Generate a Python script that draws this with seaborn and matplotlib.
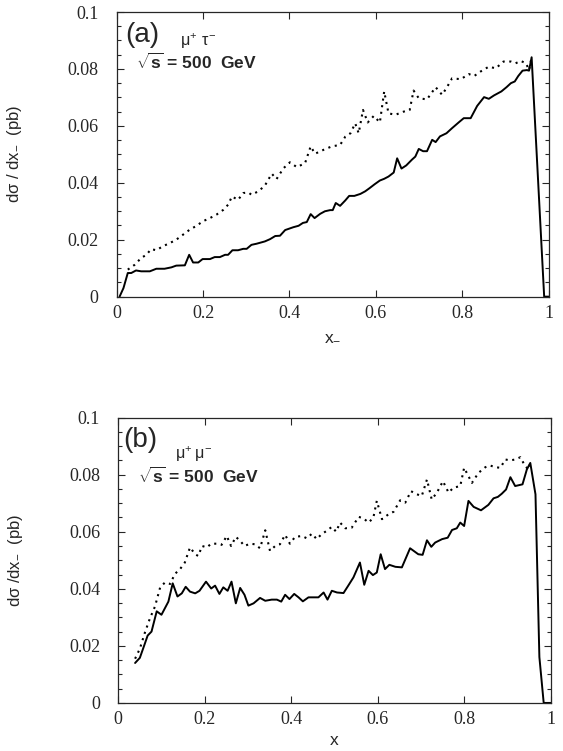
import numpy as np
import pandas as pd
import matplotlib
matplotlib.use("Agg")
import matplotlib.pyplot as plt
from matplotlib.ticker import MultipleLocator, FuncFormatter
import seaborn as sns

# panel (a): mu+ tau-, solid curve
a_solid_x = [0.007, 0.016, 0.026, 0.034, 0.045, 0.057, 0.077, 0.092, 0.111, 0.127, 0.138, 0.158,
             0.168, 0.177, 0.189, 0.199, 0.216, 0.227, 0.239, 0.251, 0.258, 0.268, 0.281, 0.293,
             0.301, 0.312, 0.324, 0.343, 0.355, 0.367, 0.378, 0.390, 0.409, 0.421, 0.431, 0.440,
             0.449, 0.458, 0.471, 0.482, 0.494, 0.500, 0.507, 0.517, 0.529, 0.538, 0.550, 0.564,
             0.575, 0.585, 0.597, 0.609, 0.619, 0.629, 0.641, 0.649, 0.659, 0.670, 0.683, 0.691,
             0.699, 0.709, 0.718, 0.730, 0.738, 0.748, 0.763, 0.776, 0.792, 0.803, 0.819, 0.834,
             0.850, 0.861, 0.873, 0.890, 0.902, 0.912, 0.921, 0.929, 0.939, 0.949, 0.954, 0.960,
             0.989, 1.0]
a_solid_y = [0.0, 0.003, 0.0083, 0.0083, 0.0092, 0.0089, 0.0089, 0.0098, 0.0098, 0.0103, 0.0109, 0.011,
             0.0147, 0.012, 0.012, 0.0132, 0.0132, 0.0139, 0.0139, 0.0147, 0.0147, 0.0163, 0.0163, 0.0168,
             0.0168, 0.0182, 0.0186, 0.0194, 0.0202, 0.0213, 0.0214, 0.0234, 0.0244, 0.0249, 0.0259, 0.0262,
             0.029, 0.0276, 0.0291, 0.0300, 0.0304, 0.0304, 0.0329, 0.0319, 0.0338, 0.0354, 0.0354, 0.0361,
             0.0370, 0.0381, 0.0395, 0.0408, 0.0414, 0.0422, 0.0436, 0.0486, 0.0450, 0.0461, 0.0481, 0.0492,
             0.0519, 0.0511, 0.0511, 0.0551, 0.0543, 0.0563, 0.0574, 0.0592, 0.0613, 0.0627, 0.0627, 0.067,
             0.0701, 0.0695, 0.0707, 0.0721, 0.0736, 0.075, 0.0756, 0.0775, 0.0794, 0.0796, 0.0794, 0.0841,
             0.0, 0.0]

# panel (a): dotted curve
a_dot_x = [0.026, 0.042, 0.057, 0.069, 0.080, 0.092, 0.107, 0.123, 0.138, 0.154, 0.169, 0.185,
           0.200, 0.216, 0.231, 0.247, 0.258, 0.267, 0.281, 0.293, 0.305, 0.312, 0.328, 0.343,
           0.359, 0.370, 0.386, 0.401, 0.417, 0.436, 0.449, 0.459, 0.479, 0.498, 0.517, 0.529,
           0.541, 0.552, 0.560, 0.570, 0.581, 0.595, 0.609, 0.619, 0.629, 0.645, 0.664, 0.678,
           0.687, 0.699, 0.718, 0.738, 0.753, 0.765, 0.776, 0.796, 0.815, 0.827, 0.842, 0.861,
           0.877, 0.895, 0.912, 0.923, 0.935, 0.947, 0.954, 0.960]
a_dot_y = [0.0095, 0.0112, 0.0136, 0.0147, 0.0167, 0.0163, 0.0177, 0.0188, 0.0200, 0.0218, 0.0235, 0.0249,
           0.0265, 0.0276, 0.0288, 0.0305, 0.0323, 0.0352, 0.0340, 0.0364, 0.0366, 0.0358, 0.0370, 0.0390,
           0.0432, 0.0413, 0.0451, 0.0472, 0.0455, 0.0469, 0.0528, 0.0502, 0.0516, 0.0528, 0.0533, 0.0562,
           0.0574, 0.0609, 0.0574, 0.0656, 0.0612, 0.0635, 0.0612, 0.0721, 0.0644, 0.0639, 0.0650, 0.0656,
           0.0724, 0.0697, 0.0693, 0.0736, 0.0709, 0.0738, 0.0767, 0.0764, 0.0782, 0.0775, 0.0791, 0.0808,
           0.0802, 0.0826, 0.0826, 0.0820, 0.0828, 0.0820, 0.0796, 0.0841]

# panel (b): mu+ mu-, solid curve
b_solid_x = [0.039, 0.050, 0.060, 0.068, 0.077, 0.089, 0.100, 0.116, 0.126, 0.137, 0.147, 0.156,
             0.166, 0.178, 0.188, 0.203, 0.215, 0.224, 0.234, 0.243, 0.253, 0.262, 0.272, 0.282,
             0.292, 0.301, 0.313, 0.328, 0.340, 0.355, 0.367, 0.377, 0.386, 0.396, 0.407, 0.417,
             0.427, 0.440, 0.463, 0.475, 0.484, 0.494, 0.506, 0.521, 0.532, 0.544, 0.559, 0.569,
             0.579, 0.589, 0.598, 0.607, 0.617, 0.627, 0.641, 0.656, 0.675, 0.694, 0.704, 0.714,
             0.724, 0.733, 0.749, 0.762, 0.772, 0.783, 0.791, 0.800, 0.810, 0.822, 0.839, 0.856,
             0.868, 0.878, 0.887, 0.897, 0.907, 0.918, 0.935, 0.945, 0.953, 0.965, 0.974, 0.984,
             1.0]
b_solid_y = [0.0140, 0.0158, 0.0201, 0.0236, 0.0250, 0.0321, 0.0309, 0.0355, 0.0419, 0.0373, 0.0384, 0.0407,
             0.0390, 0.0384, 0.0393, 0.0425, 0.0401, 0.0411, 0.0382, 0.0405, 0.0393, 0.0425, 0.0349, 0.0403,
             0.0379, 0.0341, 0.0349, 0.0368, 0.0358, 0.0362, 0.0362, 0.0355, 0.0379, 0.0364, 0.0382, 0.0370,
             0.0356, 0.0370, 0.0370, 0.0387, 0.0362, 0.0393, 0.0387, 0.0385, 0.0411, 0.0440, 0.0492, 0.0414,
             0.0463, 0.0448, 0.0457, 0.0521, 0.0469, 0.0484, 0.0477, 0.0475, 0.0542, 0.0521, 0.0519, 0.0570,
             0.0547, 0.0562, 0.0574, 0.0579, 0.0606, 0.0612, 0.0632, 0.0620, 0.0708, 0.0687, 0.0675, 0.0694,
             0.0717, 0.0722, 0.0733, 0.0748, 0.0791, 0.0760, 0.0766, 0.0818, 0.0841, 0.0731, 0.0161, 0.0,
             0.0]

# panel (b): dotted curve
b_dot_x = [0.039, 0.050, 0.062, 0.073, 0.085, 0.097, 0.108, 0.120, 0.131, 0.143, 0.154, 0.166,
           0.178, 0.185, 0.194, 0.205, 0.215, 0.228, 0.239, 0.251, 0.261, 0.272, 0.282, 0.292,
           0.305, 0.316, 0.328, 0.340, 0.351, 0.363, 0.374, 0.386, 0.397, 0.409, 0.425, 0.436,
           0.448, 0.459, 0.470, 0.482, 0.494, 0.504, 0.513, 0.525, 0.540, 0.556, 0.567, 0.579,
           0.590, 0.598, 0.610, 0.625, 0.637, 0.652, 0.664, 0.677, 0.691, 0.702, 0.714, 0.725,
           0.737, 0.751, 0.764, 0.775, 0.791, 0.800, 0.818, 0.833, 0.849, 0.860, 0.872, 0.884,
           0.895, 0.907, 0.918, 0.930, 0.941, 0.949, 0.953]
b_dot_y = [0.0155, 0.0190, 0.0248, 0.0295, 0.0338, 0.0405, 0.0422, 0.0417, 0.0452, 0.0469, 0.0492, 0.0545,
           0.0521, 0.0515, 0.0550, 0.0545, 0.0558, 0.0558, 0.0554, 0.0585, 0.0550, 0.0582, 0.0568, 0.0550,
           0.0558, 0.0556, 0.0542, 0.0605, 0.0533, 0.0550, 0.0556, 0.0589, 0.0558, 0.0582, 0.0585, 0.0577,
           0.0593, 0.0574, 0.0591, 0.0603, 0.0617, 0.0600, 0.0632, 0.0612, 0.0614, 0.0652, 0.0647, 0.0632,
           0.0649, 0.0708, 0.0644, 0.0661, 0.0670, 0.0710, 0.0702, 0.0742, 0.0731, 0.0725, 0.0783, 0.0713,
           0.0737, 0.0777, 0.0737, 0.0754, 0.0760, 0.0824, 0.0771, 0.0806, 0.0826, 0.0832, 0.0826, 0.0824,
           0.0853, 0.0850, 0.0853, 0.0861, 0.0830, 0.0818, 0.0841]

sns.set_style("ticks")
plt.rcParams['font.family'] = ['Liberation Serif', 'DejaVu Serif']
plt.rcParams['mathtext.fontset'] = 'custom'
plt.rcParams['mathtext.rm'] = 'Liberation Sans'
plt.rcParams['mathtext.it'] = 'Liberation Sans'
plt.rcParams['mathtext.bf'] = 'Liberation Sans:bold'

fig = plt.figure(figsize=(5.63, 7.51), dpi=100)
ax_a = fig.add_axes([0.207, 0.605, 0.768, 0.379])
ax_b = fig.add_axes([0.210, 0.064, 0.768, 0.380])

sans = ['Liberation Sans', 'DejaVu Sans']
fmt = FuncFormatter(lambda v, pos: '%g' % round(v, 3))


def draw_panel(ax, sx, sy, dx, dy, tag, chan, ylab, xlab, xlab_pos):
    solid = pd.DataFrame({'x': sx, 'y': sy})
    dotted = pd.DataFrame({'x': dx, 'y': dy})
    sns.lineplot(data=dotted, x='x', y='y', ax=ax, color='black', lw=1.5,
                 linestyle=(0, (1, 2.2)), sort=False, estimator=None)
    sns.lineplot(data=solid, x='x', y='y', ax=ax, color='black', lw=1.4,
                 sort=False, estimator=None)
    ax.set_xlim(0, 1)
    ax.set_ylim(0, 0.1)
    ax.xaxis.set_major_locator(MultipleLocator(0.2))
    ax.yaxis.set_major_locator(MultipleLocator(0.02))
    ax.yaxis.set_minor_locator(MultipleLocator(0.005))
    ax.xaxis.set_major_formatter(fmt)
    ax.yaxis.set_major_formatter(fmt)
    ax.tick_params(which='both', direction='in', top=True, right=True, labelsize=13,
                   width=0.8, labelfontfamily='Liberation Serif')
    ax.tick_params(axis='x', pad=6)
    ax.tick_params(axis='y', pad=13)
    ax.tick_params(which='major', length=5)
    ax.tick_params(which='minor', length=3)
    for sp in ax.spines.values():
        sp.set_linewidth(0.9)
    ax.set_xlabel('')
    ax.set_ylabel(ylab, family=sans, fontsize=12)
    ax.yaxis.set_label_coords(-0.215, 0.5)
    ax.text(0.5, xlab_pos, xlab, transform=ax.transAxes, ha='center', va='center',
            family=sans, fontsize=12.5)
    ax.text(tag[0], tag[1], tag[2], transform=ax.transAxes, family=sans, fontsize=20,
            va='center', ha='left')
    ax.text(chan[0], chan[1], chan[2], transform=ax.transAxes, fontsize=11.5,
            va='center', ha='left')
    ax.text(chan[3], chan[4], r'$\sqrt{\mathbf{s}}$ = 500  GeV', transform=ax.transAxes,
            family=sans, fontsize=12.5, fontweight='bold', va='center', ha='left')


draw_panel(ax_a, a_solid_x, a_solid_y, a_dot_x, a_dot_y,
           (0.019, 0.92, '(a)'),
           (0.146, 0.898, r'$\mu^{+}\ \tau^{-}$', 0.046, 0.825),
           r'd$\sigma$ / dx$_{-}$  (pb)', r'x$_{-}$', -0.14)
draw_panel(ax_b, b_solid_x, b_solid_y, b_dot_x, b_dot_y,
           (0.012, 0.92, '(b)'),
           (0.132, 0.87, r'$\mu^{+}\,\mu^{-}$', 0.046, 0.795),
           r'd$\sigma$ /dx$_{-}$  (pb)', 'x', -0.13)

fig.savefig('out.png', dpi=100)
